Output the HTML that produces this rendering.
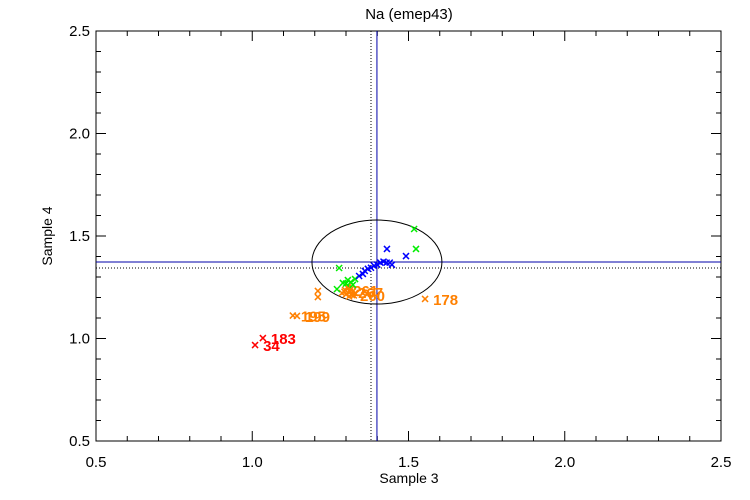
<!DOCTYPE html>
<html><head><meta charset="utf-8"><style>
body{margin:0;background:#fff}
svg{display:block;font-family:"Liberation Sans",sans-serif}
</style></head><body>
<svg id="c" width="750" height="500"></svg>
<script>
const xTicks=[0.5,1.0,1.5,2.0,2.5];
const yTicks=[0.5,1.0,1.5,2.0,2.5];
const redX=[1.009,1.034];
const redY=[0.968,1.002];
const redLabels=["34","183"];
const orangeX=[1.130,1.143,1.210,1.210,1.553,1.297,1.313,1.319,1.306,1.329,1.287,1.300,1.315,1.322,1.310,1.295,1.325,1.305,1.318];
const orangeY=[1.112,1.110,1.232,1.202,1.193,1.237,1.227,1.212,1.246,1.222,1.222,1.215,1.240,1.230,1.205,1.228,1.210,1.252,1.218];
const orangeLabels=["195","199","","","178","261","267","260","","","","","","","","","","",""];
const greenX=[1.278,1.518,1.524,1.306,1.329,1.290,1.271,1.300,1.315,1.322];
const greenY=[1.344,1.534,1.437,1.285,1.290,1.271,1.241,1.268,1.275,1.262];
const blueX=[1.342,1.354,1.36,1.37,1.38,1.39,1.40,1.41,1.42,1.43,1.44,1.447,1.431,1.492];
const blueY=[1.305,1.315,1.33,1.34,1.345,1.355,1.36,1.37,1.375,1.37,1.37,1.36,1.437,1.402];
const meanX=1.399, meanY=1.373, medX=1.38, medY=1.344;
const ellRX=0.208, ellRY=0.205;
const L=96,R=721,T=31,B=441;
const sx=v=>L+(v-0.5)/2*(R-L);
const sy=v=>B-(v-0.5)/2*(B-T);
const svg=document.getElementById('c');
const NS='http://www.w3.org/2000/svg';
function mk(t,a,p){const e=document.createElementNS(NS,t);for(const k in a)e.setAttribute(k,a[k]);(p||svg).appendChild(e);return e;}
let e;
e=mk('rect',{x:L,y:T,width:R-L,height:B-T,fill:'none',stroke:'#000','stroke-width':1});


for(let i=0;i<=20;i++){const v=0.5+i*0.1;const len=(i%5===0)?10:5;
 mk('line',{x1:sx(v),x2:sx(v),y1:B,y2:B-len,stroke:'#000'});
 mk('line',{x1:sx(v),x2:sx(v),y1:T,y2:T+len,stroke:'#000'});
 mk('line',{x1:L,x2:L+len,y1:sy(v),y2:sy(v),stroke:'#000'});
 mk('line',{x1:R,x2:R-len,y1:sy(v),y2:sy(v),stroke:'#000'});}
xTicks.forEach(v=>{e=mk('text',{x:sx(v),y:467,'text-anchor':'middle','font-size':15});e.textContent=v.toFixed(1);

});
yTicks.forEach(v=>{e=mk('text',{x:L-6,y:sy(v)+5,'text-anchor':'end','font-size':15});e.textContent=v.toFixed(1);

});
e=mk('text',{x:409,y:19,'text-anchor':'middle','font-size':15});e.textContent='Na (emep43)';


e=mk('text',{x:409,y:483,'text-anchor':'middle','font-size':14});e.textContent='Sample 3';


e=mk('text',{x:52,y:236,'text-anchor':'middle','font-size':14,transform:'rotate(-90 52 236)'});e.textContent='Sample 4';


e=mk('line',{x1:sx(medX),x2:sx(medX),y1:T,y2:B,stroke:'#000','stroke-dasharray':'1 2'});


e=mk('line',{x1:L,x2:R,y1:sy(medY),y2:sy(medY),stroke:'#000','stroke-dasharray':'1 2'});


e=mk('line',{x1:sx(meanX),x2:sx(meanX),y1:T,y2:B,stroke:'#0000aa'});


e=mk('line',{x1:L,x2:R,y1:sy(meanY),y2:sy(meanY),stroke:'#0000aa'});


e=mk('ellipse',{cx:sx(meanX),cy:sy(meanY),rx:sx(0.5+ellRX)-L,ry:B-sy(0.5+ellRY),fill:'none',stroke:'#000'});


function series(xs,ys,labs,col,name){xs.forEach((x,i)=>{const px=sx(x),py=sy(ys[i]);
 const g=mk('path',{d:`M${px-3},${py-3}L${px+3},${py+3}M${px-3},${py+3}L${px+3},${py-3}`,stroke:col,'stroke-width':1.5});
 
 
 if(labs&&labs[i]){const t=mk('text',{x:px+8,y:py+6,'font-size':15,fill:col,'font-weight':'bold'});t.textContent=labs[i];
 
 }});}
series(redX,redY,redLabels,'#ff0000','red');
series(orangeX,orangeY,orangeLabels,'#ff8000','orange');
series(greenX,greenY,null,'#00ee00','green');
series(blueX,blueY,null,'#0000ff','blue');
</script>
</body></html>
